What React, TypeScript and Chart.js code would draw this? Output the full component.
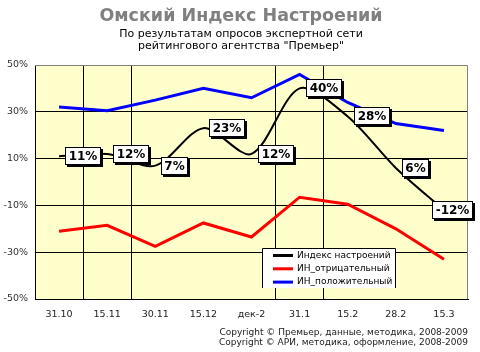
import React, { useEffect, useRef } from "react";
import { Chart, registerables } from "chart.js";

Chart.register(...registerables);

const categories = ["31.10", "15.11", "30.11", "15.12", "дек-2", "31.1", "15.2", "28.2", "15.3"];
const moodIndex = [11, 12, 7, 23, 12, 40, 28, 6, -12];
const negativeIndex = [-21, -18.5, -27.5, -17.5, -23.5, -6.5, -9.5, -20, -33];
const positiveIndex = [32, 30.5, 35, 40, 36, 46, 34, 25, 22];
const seriesNames = ["Индекс настроений", "ИН_отрицательный", "ИН_положительный"];
const titleText = "Омский Индекс Настроений";
const subtitleLines = ["По результатам опросов экспертной сети", "рейтингового агентства \"Премьер\""];
const copyrightLines = [
  "Copyright © Премьер, данные, методика, 2008-2009",
  "Copyright © АРИ, методика, оформление, 2008-2009",
];
const yMin = -50;
const yMax = 50;
const yStep = 20;
const darkGridBoundaries = [1, 2, 5, 6];

const FONT = "'DejaVu Sans', Verdana, sans-serif";

const decorPlugin = {
  id: "decor",
  beforeDraw(chart: any) {
    const { ctx, chartArea: a } = chart;
    ctx.save();
    ctx.fillStyle = "#ffffcc";
    ctx.fillRect(a.left, a.top, a.right - a.left, a.bottom - a.top);
    ctx.restore();
  },
  beforeDatasetsDraw(chart: any) {
    const { ctx, chartArea: a } = chart;
    ctx.save();
    ctx.strokeStyle = "#808080";
    ctx.lineWidth = 1;
    ctx.beginPath();
    ctx.moveTo(a.left, a.top + 0.5);
    ctx.lineTo(a.right - 0.5, a.top + 0.5);
    ctx.lineTo(a.right - 0.5, a.bottom);
    ctx.stroke();
    ctx.restore();
  },
  afterDraw(chart: any) {
    const { ctx, width } = chart;
    ctx.save();
    // title
    ctx.textAlign = "center";
    ctx.textBaseline = "middle";
    ctx.fillStyle = "#808080";
    ctx.font = `bold 17.5px ${FONT}`;
    ctx.fillText(titleText, 241, 16);
    ctx.fillStyle = "#000";
    ctx.font = `11px ${FONT}`;
    subtitleLines.forEach((l, i) => ctx.fillText(l, 241, 34.5 + i * 11.5));

    // data labels for mood index
    const meta = chart.getDatasetMeta(0);
    ctx.font = `bold 12px ${FONT}`;
    meta.data.forEach((el: any, i: number) => {
      const txt = `${moodIndex[i]}%`;
      const tw = ctx.measureText(txt).width;
      const bw = Math.round(tw + 7);
      const bh = 18;
      let left = Math.round(el.x + 6);
      if (left + bw + 2 > width - 5) left = width - 5 - 2 - bw;
      const top = Math.round(el.y - bh / 2);
      ctx.fillStyle = "#000";
      ctx.fillRect(left + 2, top + 2, bw, bh);
      ctx.fillStyle = "#fff";
      ctx.fillRect(left, top, bw, bh);
      ctx.strokeStyle = "#000";
      ctx.lineWidth = 1;
      ctx.strokeRect(left + 0.5, top + 0.5, bw - 1, bh - 1);
      ctx.fillStyle = "#000";
      ctx.textAlign = "center";
      ctx.textBaseline = "middle";
      ctx.fillText(txt, left + bw / 2, top + bh / 2 + 1);
    });

    // legend
    const lx = 262, ly = 248, lw = 134, lh = 40;
    ctx.fillStyle = "#fff";
    ctx.fillRect(lx, ly, lw, lh);
    ctx.strokeStyle = "#000";
    ctx.lineWidth = 1;
    ctx.beginPath();
    ctx.moveTo(lx + 0.5, ly + lh);
    ctx.lineTo(lx + 0.5, ly + 0.5);
    ctx.lineTo(lx + lw - 0.5, ly + 0.5);
    ctx.lineTo(lx + lw - 0.5, ly + lh);
    ctx.stroke();
    ctx.font = `9px ${FONT}`;
    ctx.textAlign = "left";
    ctx.textBaseline = "middle";
    chart.data.datasets.forEach((ds: any, i: number) => {
      const y = 255.5 + i * 13.3;
      ctx.strokeStyle = ds.borderColor;
      ctx.lineWidth = 3;
      ctx.beginPath();
      ctx.moveTo(273, y);
      ctx.lineTo(293, y);
      ctx.stroke();
      ctx.fillStyle = "#000";
      ctx.fillText(ds.label, 297, y);
    });

    // copyright
    ctx.font = `9px ${FONT}`;
    ctx.textAlign = "right";
    ctx.fillStyle = "#222";
    copyrightLines.forEach((l, i) => ctx.fillText(l, 468, 333 + i * 10));
    ctx.restore();
  },
};

export default function App() {
  const ref = useRef<HTMLCanvasElement>(null);
  useEffect(() => {
    if (!ref.current) return;
    const chart = new Chart(ref.current, {
      type: "line",
      data: {
        labels: categories,
        datasets: [
          {
            label: seriesNames[0],
            data: moodIndex,
            borderColor: "#000000",
            borderWidth: 2,
            tension: 0.3,
            pointRadius: 0,
          },
          {
            label: seriesNames[1],
            data: negativeIndex,
            borderColor: "#ff0000",
            borderWidth: 3,
            tension: 0,
            pointRadius: 0,
          },
          {
            label: seriesNames[2],
            data: positiveIndex,
            borderColor: "#0000ff",
            borderWidth: 3,
            tension: 0,
            pointRadius: 0,
          },
        ],
      },
      plugins: [decorPlugin],
      options: {
        animation: false,
        responsive: false,
        devicePixelRatio: 1,
        layout: { padding: { left: 0, right: 12, top: 65, bottom: 0 } },
        plugins: {
          legend: { display: false },
          title: { display: false },
          tooltip: { enabled: false },
        },
        scales: {
          x: {
            offset: true,
            afterFit: (s: any) => {
              s.height = 53;
            },
            grid: {
              offset: true,
              drawTicks: false,
              lineWidth: 1,
              color: (c: any) => (darkGridBoundaries.includes(c.index) ? "#000" : "rgba(0,0,0,0)"),
            },
            border: { color: "#000", width: 1 },
            ticks: {
              padding: 10,
              color: "#222",
              font: { family: FONT, size: 9.5 },
              maxRotation: 0,
              autoSkip: false,
            },
          },
          y: {
            min: yMin,
            max: yMax,
            afterFit: (s: any) => {
              s.width = 35;
            },
            grid: {
              drawTicks: false,
              lineWidth: 1,
              color: (c: any) =>
                c.tick && (c.tick.value === yMax || c.tick.value === yMin) ? "rgba(0,0,0,0)" : "#000",
            },
            border: { color: "#000", width: 1 },
            ticks: {
              stepSize: yStep,
              padding: 7,
              color: "#333",
              font: { family: FONT, size: 9.5 },
              callback: (v: any) => `${v}%`,
            },
          },
        },
      },
    });
    return () => chart.destroy();
  }, []);
  return (
    <div style={{ position: "absolute", left: 0, top: 0, width: 480, height: 352, background: "#fff" }}>
      <canvas ref={ref} width={480} height={352} />
    </div>
  );
}
